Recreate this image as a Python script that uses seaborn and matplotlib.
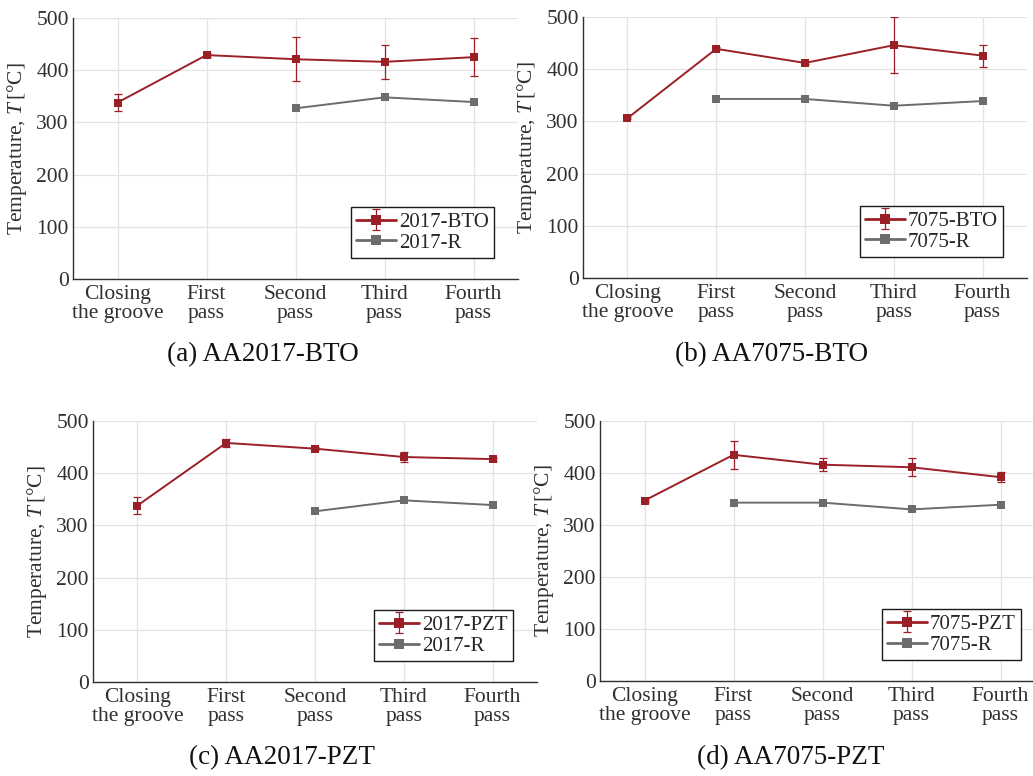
import numpy as np
import pandas as pd
import matplotlib
matplotlib.use("Agg")
import matplotlib.pyplot as plt
from matplotlib.legend_handler import HandlerTuple
import seaborn as sns

# categories on the x axis
stages = ["Closing\nthe groove", "First\npass", "Second\npass", "Third\npass", "Fourth\npass"]

# (a) AA2017-BTO
bto2017 = [338, 429, 421, 416, 425]
bto2017_err = [16, 4, 42, 32, 37]
# (b) AA7075-BTO
bto7075 = [306, 439, 412, 446, 426]
bto7075_err = [2, 3, 2, 54, 21]
# (c) AA2017-PZT
pzt2017 = [338, 458, 447, 431, 427]
pzt2017_err = [17, 7, 3, 10, 3]
# (d) AA7075-PZT
pzt7075 = [347, 435, 416, 411, 392]
pzt7075_err = [2, 27, 12, 17, 9]
# reference runs (no value for the first stages)
ref2017 = [np.nan, np.nan, 327, 348, 339]
ref7075 = [np.nan, 343, 343, 330, 339]

panels = [
    ("(a) AA2017-BTO", "2017-BTO", bto2017, bto2017_err, "2017-R", ref2017),
    ("(b) AA7075-BTO", "7075-BTO", bto7075, bto7075_err, "7075-R", ref7075),
    ("(c) AA2017-PZT", "2017-PZT", pzt2017, pzt2017_err, "2017-R", ref2017),
    ("(d) AA7075-PZT", "7075-PZT", pzt7075, pzt7075_err, "7075-R", ref7075),
]

RED = "#9b1f26"
GREY = "#6c6c6c"
TXT = "#303030"

sns.set_theme(style="white")
plt.rcParams["font.family"] = ["Liberation Serif", "DejaVu Serif"]
plt.rcParams["mathtext.fontset"] = "custom"
plt.rcParams["mathtext.rm"] = "Liberation Serif"
plt.rcParams["mathtext.it"] = "Liberation Serif:italic"

fig = plt.figure(figsize=(10.33, 7.76), dpi=100)
W, H = 1033, 776
# axes boxes in pixels: left, right, top, bottom
boxes = [(73, 518, 18, 279), (583, 1027, 17, 278), (93, 537, 421, 682), (600, 1045, 421, 681)]
captions = [(263, 355), (772, 355), (282, 758), (791, 758)]

for (cap, lab, vals, errs, rlab, rvals), (l, r, t, b), (cx, cy) in zip(panels, boxes, captions):
    ax = fig.add_axes([l / W, 1 - b / H, (r - l) / W, (b - t) / H])
    pos = np.arange(len(stages))
    df = pd.DataFrame({"pos": pos, "temp": vals})
    dfr = pd.DataFrame({"pos": pos, "temp": rvals}).dropna()

    ax.grid(True, color="#e3e3e3", linewidth=0.9)
    ax.set_axisbelow(True)

    sns.lineplot(data=dfr, x="pos", y="temp", color=GREY, marker="s", markersize=5.5,
                 markeredgewidth=0, linewidth=1.4, errorbar=None, ax=ax)
    rline = ax.lines[-1]
    sns.lineplot(data=df, x="pos", y="temp", color=RED, marker="s", markersize=5.5,
                 markeredgewidth=0, linewidth=1.4, errorbar=None, ax=ax)
    mline = ax.lines[-1]
    eb = ax.errorbar(df["pos"], df["temp"], yerr=errs, fmt="none", ecolor=RED,
                     elinewidth=0.9, capsize=3, capthick=0.9)

    ax.set_xlim(-0.5, 4.5)
    ax.set_ylim(0, 500)
    ax.set_yticks([0, 100, 200, 300, 400, 500])
    ax.set_xticks(pos)
    ax.set_xticklabels(stages, linespacing=1.0)
    ax.tick_params(axis="both", direction="in", length=4, width=0.8, colors=TXT,
                   labelsize=15.5, pad=3)
    ax.tick_params(axis="x", pad=4)
    ax.set_xlabel("")
    ax.set_ylabel("Temperature, $T\\,$[°C]", fontsize=15.5, color=TXT, labelpad=5)
    for side in ["top", "right"]:
        ax.spines[side].set_visible(False)
    for side in ["left", "bottom"]:
        ax.spines[side].set_color(TXT)
        ax.spines[side].set_linewidth(1.0)

    leg = ax.legend([(mline, eb), rline], [lab, rlab], handler_map={tuple: HandlerTuple(ndivide=1)},
                    loc="lower right", bbox_to_anchor=(1 - 24 / (r - l), 21 / (b - t)),
                    borderaxespad=0, fontsize=15, frameon=True, fancybox=False,
                    handlelength=1.9, handletextpad=0.15, borderpad=0.25, labelspacing=0.05,
                    markerscale=1.25)
    leg.get_frame().set_edgecolor("#1a1a1a")
    leg.get_frame().set_linewidth(1.0)
    leg.get_frame().set_alpha(1)
    for ln in leg.get_lines():
        ln.set_linewidth(2.0)

    fig.text(cx / W, 1 - cy / H, cap, ha="center", va="center", fontsize=19.5, color="#111111")

plt.savefig("out.png", dpi=100)
